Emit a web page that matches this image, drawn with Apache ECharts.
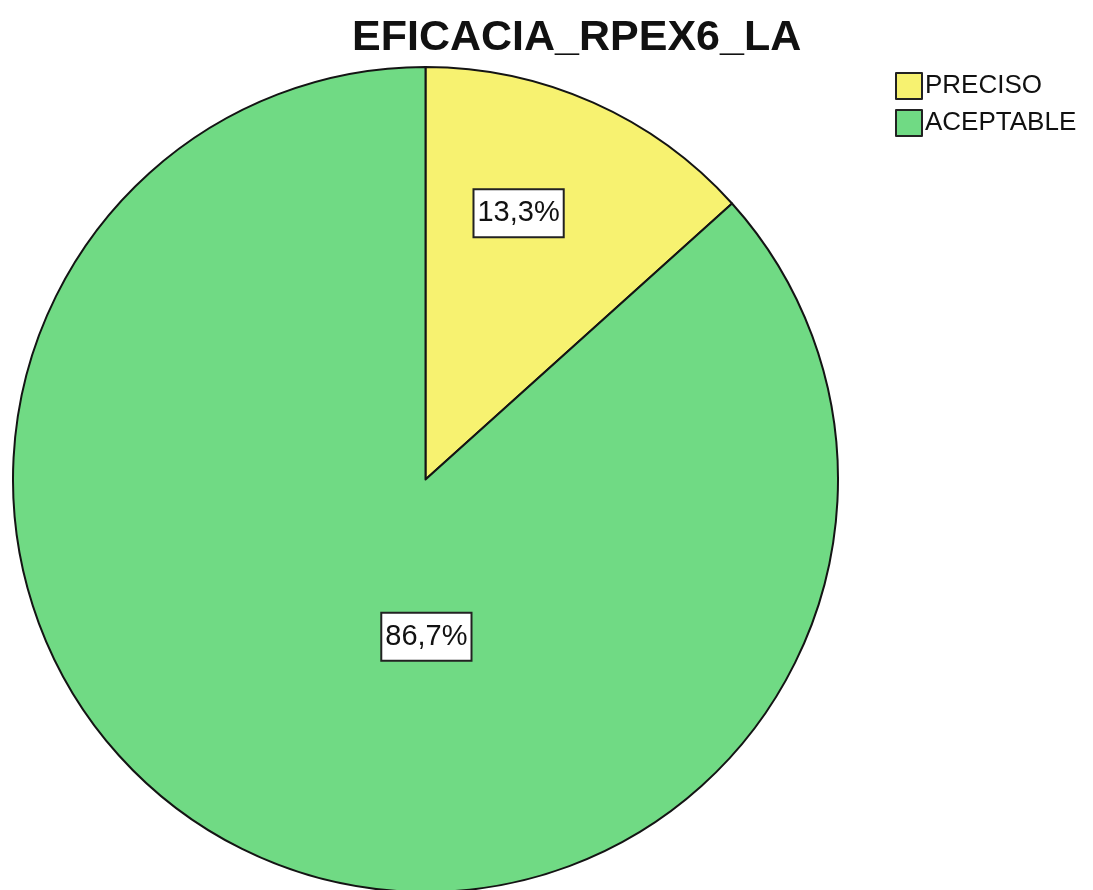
<!DOCTYPE html>
<html>
<head>
<meta charset="utf-8">
<script src="https://cdn.jsdelivr.net/npm/echarts@6/dist/echarts.min.js"></script>
<style>html,body{margin:0;padding:0;background:#fff;}#c{width:1093px;height:890px;}</style>
</head>
<body>
<div id="c"></div>
<script>
var titleText = 'EFICACIA_RPEX6_LA';
var categories = ['PRECISO', 'ACEPTABLE'];
var counts = [2, 13];
var colors = ['#f7f270', '#70da84'];

var labelShift = [[8, -75], [86, -34]];

var chart = echarts.init(document.getElementById('c'), null, {renderer: 'canvas'});
var data = categories.map(function (c, i) {
  return {name: c, value: counts[i], itemStyle: {color: colors[i]}};
});
chart.setOption({
  animation: false,
  backgroundColor: '#ffffff',
  title: {
    text: titleText,
    left: 352,
    top: 17,
    padding: 0,
    textStyle: {fontFamily: 'Liberation Sans, Arial, sans-serif', fontSize: 43, fontWeight: 'bold', color: '#111'}
  },
  legend: {
    orient: 'vertical',
    left: 895,
    top: 72,
    padding: 0,
    itemWidth: 26,
    itemHeight: 26,
    itemGap: 9,
    icon: 'rect',
    data: categories,
    itemStyle: {borderColor: '#222', borderWidth: 2},
    textStyle: {fontFamily: 'Liberation Sans, Arial, sans-serif', fontSize: 26, color: '#111', padding: [3, 0, 0, -2]}
  },
  series: [{
    type: 'pie',
    center: [425.5, 479.5],
    radius: 412.5,
    startAngle: 90,
    clockwise: true,
    data: data,
    itemStyle: {borderColor: '#141414', borderWidth: 2},
    emphasis: {disabled: true},
    label: {
      show: true,
      position: 'inside',
      formatter: function (p) { return p.percent.toFixed(1).replace('.', ',') + '%'; },
      fontFamily: 'Liberation Sans, Arial, sans-serif',
      fontSize: 29,
      color: '#111',
      backgroundColor: '#ffffff',
      borderColor: '#222',
      borderWidth: 2,
      padding: [9, 3, 8, 3]
    },
    labelLine: {show: false},
    labelLayout: function (params) {
      var s = labelShift[params.dataIndex];
      return {dx: s[0], dy: s[1]};
    }
  }]
});
</script>
</body>
</html>
